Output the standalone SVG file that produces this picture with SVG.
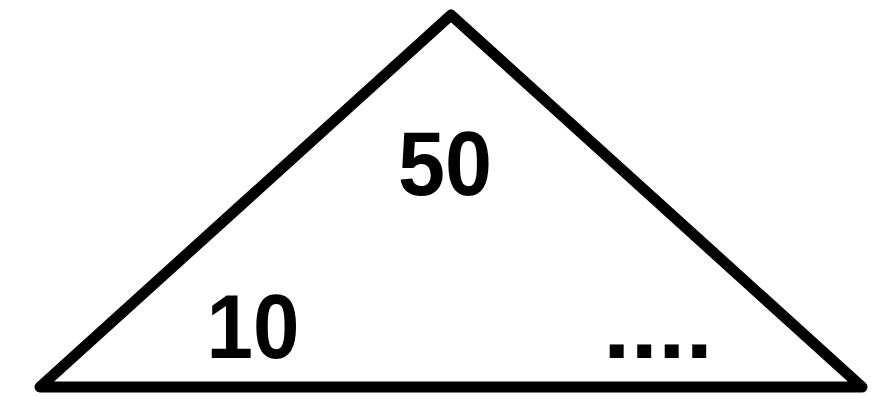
<svg xmlns="http://www.w3.org/2000/svg" width="889" height="400" viewBox="0 0 889 400">
<style>
.t{font-family:"Liberation Sans",Arial,sans-serif;font-weight:bold;font-size:90px;fill:#000}
</style>
<rect width="889" height="400" fill="#fff"/>
<g id="triangle">
<polygon points="451,15 40,387 862,387" fill="none" stroke="#000" stroke-width="11" stroke-linejoin="round"/>
</g>
<g id="label50"><text class="t" x="445" y="195" text-anchor="middle" textLength="94" lengthAdjust="spacingAndGlyphs">50</text></g>
<g id="label10"><text class="t" x="253" y="358" text-anchor="middle" textLength="93" lengthAdjust="spacingAndGlyphs">10</text></g>
<g id="labelDots"><text class="t" x="658" y="358" text-anchor="middle" textLength="110" lengthAdjust="spacingAndGlyphs">....</text></g>
<g id="connectors"></g>
</svg>
